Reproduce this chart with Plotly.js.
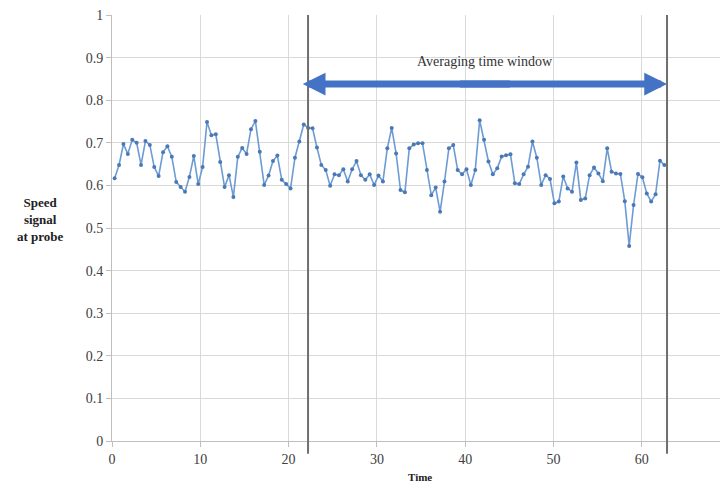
<!DOCTYPE html>
<html>
<head>
<meta charset="utf-8">
<script src="https://cdn.plot.ly/plotly-3.0.1.min.js"></script>
<style>html,body{margin:0;padding:0;background:#fff;overflow:hidden}</style>
</head>
<body>
<div id="chart" style="width:720px;height:483px"></div>
<script>
// Speed signal samples (first sample time and sampling step)
const startTime = 0.3;
const timeStep = 0.498;
const speedSignal = [
  0.617, 0.648, 0.697, 0.674, 0.707, 0.700, 0.648, 0.704, 0.695, 0.643,
  0.622, 0.678, 0.692, 0.667, 0.608, 0.596, 0.585, 0.620, 0.669, 0.603,
  0.643, 0.749, 0.718, 0.720, 0.655, 0.596, 0.624, 0.573, 0.667, 0.688,
  0.674, 0.732, 0.751,
  0.679, 0.601, 0.623, 0.657, 0.670, 0.613, 0.603, 0.593, 0.665, 0.703,
  0.743, 0.735, 0.734, 0.689, 0.648, 0.636, 0.599, 0.626, 0.624, 0.638,
  0.609, 0.638, 0.657, 0.624, 0.613, 0.626, 0.601, 0.623, 0.609, 0.687,
  0.735, 0.675, 0.589, 0.584,
  0.687, 0.696, 0.699, 0.699, 0.636, 0.577, 0.595, 0.538, 0.609, 0.687,
  0.695, 0.636, 0.626, 0.638, 0.601, 0.636, 0.753, 0.707, 0.656, 0.626,
  0.640, 0.668, 0.671, 0.673, 0.605, 0.603, 0.626, 0.644, 0.703, 0.665,
  0.601, 0.624, 0.615,
  0.558, 0.562, 0.621, 0.593, 0.585, 0.654, 0.566, 0.569, 0.624, 0.642,
  0.628, 0.610, 0.687, 0.632, 0.628, 0.627, 0.563, 0.458, 0.554, 0.627,
  0.619, 0.581, 0.562, 0.579, 0.658, 0.648
];
// Averaging window bounds (time) and label
const windowStart = 22.2;
const windowEnd = 62.85;
const arrowStart = 21.6;
const arrowLevel = 0.838;
const windowLabel = "Averaging time window";
const labelLevel = 0.89;
const xTicks = [0, 10, 20, 30, 40, 50, 60];
const yTicks = [0, 0.1, 0.2, 0.3, 0.4, 0.5, 0.6, 0.7, 0.8, 0.9, 1];
const yTickText = ["0", "0.1", "0.2", "0.3", "0.4", "0.5", "0.6", "0.7", "0.8", "0.9", "1"];

const serif = "Liberation Serif, Times New Roman, serif";
const arrowMid = (arrowStart + windowEnd) / 2;

const trace = {
  type: "scatter",
  mode: "lines+markers",
  x0: startTime,
  dx: timeStep,
  y: speedSignal,
  line: {color: "#6d9bd3", width: 1.6},
  marker: {color: "#4a79b6", size: 4},
  hoverinfo: "skip"
};

const layout = {
  width: 720, height: 483,
  margin: {l: 112, r: 0, t: 15, b: 42},
  paper_bgcolor: "#ffffff",
  plot_bgcolor: "#ffffff",
  showlegend: false,
  font: {family: serif, size: 13, color: "#404040"},
  xaxis: {
    range: [0, 68.85],
    tickvals: xTicks,
    ticktext: xTicks.map(String),
    showgrid: true, gridcolor: "#d9d9d9", gridwidth: 1,
    showline: true, linecolor: "#bfbfbf", linewidth: 1,
    ticks: "outside", ticklen: 5, tickcolor: "#bfbfbf",
    zeroline: false,
    tickfont: {family: serif, size: 14, color: "#404040"}
  },
  yaxis: {
    range: [0, 1],
    tickvals: yTicks,
    ticktext: yTickText,
    showgrid: true, gridcolor: "#d9d9d9", gridwidth: 1,
    showline: true, linecolor: "#bfbfbf", linewidth: 1,
    ticks: "outside", ticklen: 5, tickcolor: "#bfbfbf",
    zeroline: false,
    tickfont: {family: serif, size: 14, color: "#404040"}
  },
  shapes: [
    {type: "line", xref: "x", yref: "paper", x0: windowStart, x1: windowStart, y0: -0.03, y1: 1,
     line: {color: "#6f6f6f", width: 2}},
    {type: "line", xref: "x", yref: "paper", x0: windowEnd, x1: windowEnd, y0: -0.03, y1: 1,
     line: {color: "#6f6f6f", width: 2}}
  ],
  annotations: [
    {x: windowEnd, y: arrowLevel, xref: "x", yref: "y", ax: arrowMid - 3, ay: arrowLevel,
     axref: "x", ayref: "y", text: "", showarrow: true, arrowhead: 2, arrowsize: 0.65,
     arrowwidth: 7, arrowcolor: "#4472c4", standoff: 0},
    {x: arrowStart, y: arrowLevel, xref: "x", yref: "y", ax: arrowMid + 3, ay: arrowLevel,
     axref: "x", ayref: "y", text: "", showarrow: true, arrowhead: 2, arrowsize: 0.65,
     arrowwidth: 7, arrowcolor: "#4472c4", standoff: 0},
    {x: arrowMid, y: labelLevel, xref: "x", yref: "y", text: windowLabel, showarrow: false,
     font: {family: serif, size: 14, color: "#333333"}},
    {x: -0.117, y: 0.52, xref: "paper", yref: "paper", xanchor: "center", yanchor: "middle",
     text: "<b>Speed<br>signal<br>at probe</b>", showarrow: false, align: "center",
     font: {family: serif, size: 13, color: "#222222"}},
    {x: 0.507, y: 0, xref: "paper", yref: "paper", xanchor: "center", yanchor: "top", yshift: -28,
     text: "<b>Time</b>", showarrow: false,
     font: {family: serif, size: 11, color: "#222222"}}
  ]
};

Plotly.newPlot("chart", [trace], layout, {displayModeBar: false, staticPlot: true});
</script>
</body>
</html>
